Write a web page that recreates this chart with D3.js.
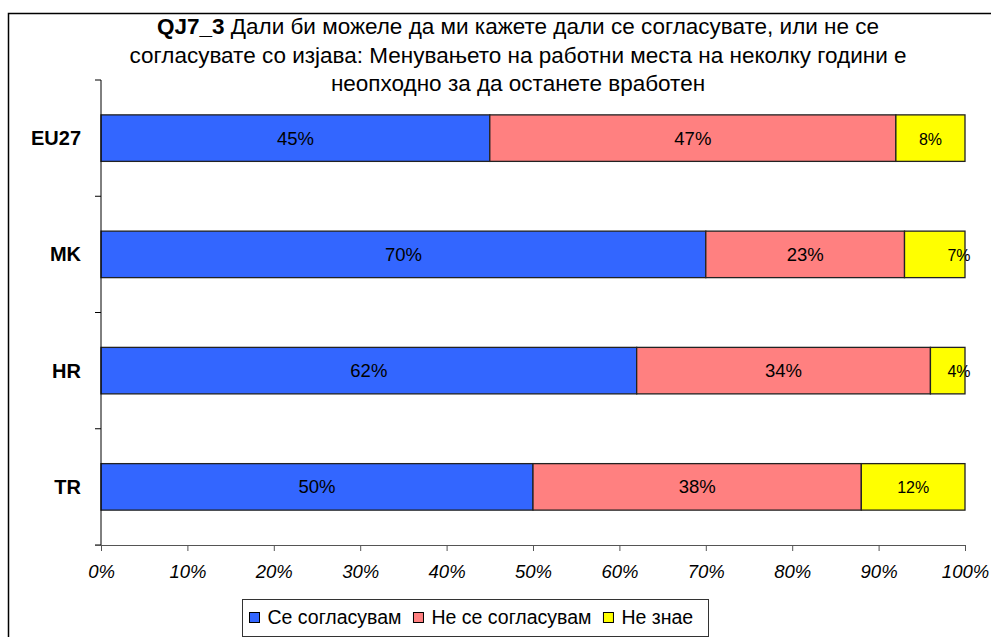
<!DOCTYPE html>
<html><head><meta charset="utf-8">
<script src="https://cdn.jsdelivr.net/npm/d3@7"></script>
<style>body{margin:0;background:#fff;} svg{display:block;font-family:"Liberation Sans",Arial,sans-serif;}</style>
</head><body>
<script>
const categories = ["EU27","MK","HR","TR"];
const seriesNames = ["Се согласувам","Не се согласувам","Не знае"];
const agree = [45,70,62,50];
const disagree = [47,23,34,38];
const dontKnow = [8,7,4,12];
const xTicks = [0,10,20,30,40,50,60,70,80,90,100];
const titleBold = "QJ7_3";
const titleLines = [" Дали би можеле да ми кажете дали се согласувате, или не се","согласувате со изјава: Менувањето на работни места на неколку години е","неопходно за да останете вработен"];
const heading = "Графикон 7: Прифаќање на промена";
const colors = ["#3366FF","#FF8080","#FFFF00"];

const W=991,H=637;
const svg=d3.select("body").append("svg").attr("width",W).attr("height",H);
svg.append("text").attr("x",40).attr("y",-5).attr("font-weight","bold").attr("font-size",24).text(heading);
svg.append("rect").attr("x",8.5).attr("y",13.5).attr("width",1000).attr("height",700).attr("fill","#fff").attr("stroke","#000").attr("stroke-width",1.5);

const x=d3.scaleLinear().domain([0,100]).range([101,965]);
const y=d3.scaleBand().domain(categories).range([80,545]).paddingInner(0.6).paddingOuter(0.3);

// title
const t=svg.append("text").attr("text-anchor","middle").attr("font-size",22.5);
titleLines.forEach((l,i)=>{
  const ts=t.append("tspan").attr("x",518).attr("y",34+i*28.5);
  if(i===0){ts.append("tspan").attr("font-weight","bold").text(titleBold); ts.append("tspan").text(l);} else ts.text(l);
});

const data=categories.map((c,i)=>{const v=[agree[i],disagree[i],dontKnow[i]];let s=0;return v.map((d,j)=>{const o={c,j,x0:s,x1:s+d,v:d};s+=d;return o;});}).flat();

svg.append("g").selectAll("rect").data(data).join("rect")
  .attr("x",d=>x(d.x0)).attr("y",d=>y(d.c)).attr("width",d=>x(d.x1)-x(d.x0)).attr("height",y.bandwidth())
  .attr("fill",d=>colors[d.j]).attr("stroke","#222").attr("stroke-width",1.3);

svg.append("g").selectAll("text").data(data).join("text")
  .attr("x",d=>{const w=x(d.x1)-x(d.x0);return w<65? x(d.x1)-6 : (x(d.x0)+x(d.x1))/2;})
  .attr("y",d=>y(d.c)+y.bandwidth()/2+6.5).attr("text-anchor","middle")
  .attr("font-size",d=>d.j===2?16:18.5).text(d=>d.v+"%");

// y axis
const yb=d3.scaleLinear().domain([0,categories.length]).range([80,545]);
const ya=svg.append("g");
ya.append("line").attr("x1",101).attr("x2",101).attr("y1",80).attr("y2",545).attr("stroke","#000");
ya.selectAll("line.t").data(d3.range(categories.length+1)).join("line").attr("class","t")
  .attr("x1",95).attr("x2",101).attr("y1",d=>yb(d)).attr("y2",d=>yb(d)).attr("stroke","#000");
ya.selectAll("text").data(categories).join("text").attr("x",81).attr("y",d=>y(d)+y.bandwidth()/2+7)
  .attr("text-anchor","end").attr("font-weight","bold").attr("font-size",20).text(d=>d);

// x axis
const xa=svg.append("g").attr("transform","translate(0,545)")
  .call(d3.axisBottom(x).tickValues(xTicks).tickSize(6).tickFormat(d=>d+"%"));
xa.select(".domain").attr("d","M95,0.5H965").attr("stroke","#555");
xa.selectAll(".tick line").attr("stroke","#555");
xa.selectAll(".tick text").attr("font-size",18.5).attr("font-style","italic").attr("font-family","Liberation Sans, Arial, sans-serif").attr("fill","#000").attr("dy","1.3em");

// legend
const lg=svg.append("g");
lg.append("rect").attr("x",242.5).attr("y",599.5).attr("width",466).attr("height",37).attr("fill","#fff").attr("stroke","#333");
let cx=249.5;
seriesNames.forEach((n,i)=>{
  lg.append("rect").attr("x",cx).attr("y",612.5).attr("width",10).attr("height",10).attr("fill",colors[i]).attr("stroke","#000");
  const tx=lg.append("text").attr("x",cx+18).attr("y",624).attr("font-size",19.5).text(n);
  cx = cx+18+tx.node().getComputedTextLength()+12;
});
</script>
</body></html>
